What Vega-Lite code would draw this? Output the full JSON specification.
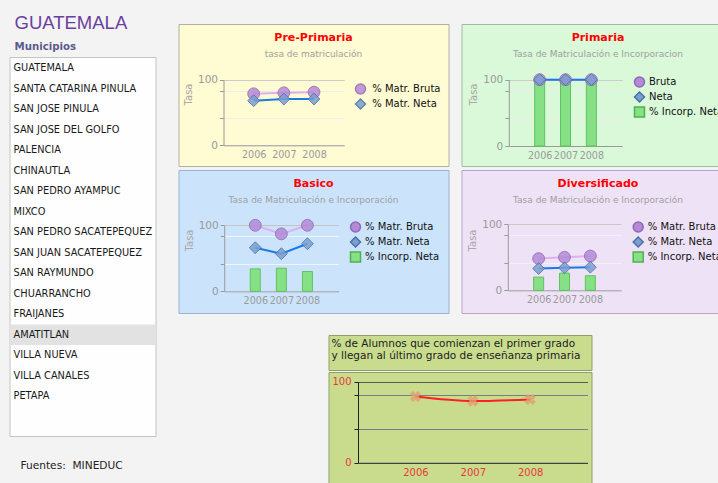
{
  "$schema": "https://vega.github.io/schema/vega-lite/v6.json",
  "background": "#f3f3f3",
  "padding": {"left": 8.5, "top": 0, "right": 0, "bottom": 0},
  "autosize": {"type": "pad"},
  "config": {
    "view": {"stroke": null},
    "font": "DejaVu Sans",
    "title": {"font": "DejaVu Sans"},
    "axis": {"labelFont": "DejaVu Sans", "titleFont": "DejaVu Sans", "domainColor": "#9a9a9a", "tickColor": "#9a9a9a", "labelColor": "#9a9a9a", "titleColor": "#a8a8a8", "titleFontWeight": "normal", "labelFontSize": 10.5, "titleFontSize": 10},
    "axisX": {"grid": false, "ticks": false, "labelPadding": 4, "labelFontSize": 9.6},
    "axisY": {"tickSize": 4, "labelPadding": 2},
    "legend": {"orient": "none", "padding": 0, "labelFont": "DejaVu Sans", "labelFontSize": 10, "labelColor": "#111111", "symbolSize": 100, "labelOffset": 3.5, "rowPadding": -1}
  },
  "datasets": {
    "municipios": [
      {"nombre": "GUATEMALA"}, {"nombre": "SANTA CATARINA PINULA"}, {"nombre": "SAN JOSE PINULA"}, {"nombre": "SAN JOSE DEL GOLFO"}, {"nombre": "PALENCIA"}, {"nombre": "CHINAUTLA"}, {"nombre": "SAN PEDRO AYAMPUC"}, {"nombre": "MIXCO"}, {"nombre": "SAN PEDRO SACATEPEQUEZ"}, {"nombre": "SAN JUAN SACATEPEQUEZ"}, {"nombre": "SAN RAYMUNDO"}, {"nombre": "CHUARRANCHO"}, {"nombre": "FRAIJANES"}, {"nombre": "AMATITLAN"}, {"nombre": "VILLA NUEVA"}, {"nombre": "VILLA CANALES"}, {"nombre": "PETAPA"}
    ],
    "matricula": [
      {"nivel": "Pre-Primaria", "anio": 2006, "serie": "% Matr. Bruta", "valor": 78.5},
      {"nivel": "Pre-Primaria", "anio": 2007, "serie": "% Matr. Bruta", "valor": 80},
      {"nivel": "Pre-Primaria", "anio": 2008, "serie": "% Matr. Bruta", "valor": 81},
      {"nivel": "Pre-Primaria", "anio": 2006, "serie": "% Matr. Neta", "valor": 68},
      {"nivel": "Pre-Primaria", "anio": 2007, "serie": "% Matr. Neta", "valor": 70.5},
      {"nivel": "Pre-Primaria", "anio": 2008, "serie": "% Matr. Neta", "valor": 70.5},
      {"nivel": "Primaria", "anio": 2006, "serie": "% Incorp. Neta", "valor": 98},
      {"nivel": "Primaria", "anio": 2007, "serie": "% Incorp. Neta", "valor": 98},
      {"nivel": "Primaria", "anio": 2008, "serie": "% Incorp. Neta", "valor": 98},
      {"nivel": "Primaria", "anio": 2006, "serie": "Bruta", "valor": 100},
      {"nivel": "Primaria", "anio": 2007, "serie": "Bruta", "valor": 100},
      {"nivel": "Primaria", "anio": 2008, "serie": "Bruta", "valor": 100},
      {"nivel": "Primaria", "anio": 2006, "serie": "Neta", "valor": 100},
      {"nivel": "Primaria", "anio": 2007, "serie": "Neta", "valor": 100},
      {"nivel": "Primaria", "anio": 2008, "serie": "Neta", "valor": 100},
      {"nivel": "Basico", "anio": 2006, "serie": "% Incorp. Neta", "valor": 34},
      {"nivel": "Basico", "anio": 2007, "serie": "% Incorp. Neta", "valor": 35},
      {"nivel": "Basico", "anio": 2008, "serie": "% Incorp. Neta", "valor": 30},
      {"nivel": "Basico", "anio": 2006, "serie": "% Matr. Bruta", "valor": 100},
      {"nivel": "Basico", "anio": 2007, "serie": "% Matr. Bruta", "valor": 87},
      {"nivel": "Basico", "anio": 2008, "serie": "% Matr. Bruta", "valor": 100},
      {"nivel": "Basico", "anio": 2006, "serie": "% Matr. Neta", "valor": 66},
      {"nivel": "Basico", "anio": 2007, "serie": "% Matr. Neta", "valor": 57},
      {"nivel": "Basico", "anio": 2008, "serie": "% Matr. Neta", "valor": 72},
      {"nivel": "Diversificado", "anio": 2006, "serie": "% Incorp. Neta", "valor": 20},
      {"nivel": "Diversificado", "anio": 2007, "serie": "% Incorp. Neta", "valor": 26},
      {"nivel": "Diversificado", "anio": 2008, "serie": "% Incorp. Neta", "valor": 22},
      {"nivel": "Diversificado", "anio": 2006, "serie": "% Matr. Bruta", "valor": 48},
      {"nivel": "Diversificado", "anio": 2007, "serie": "% Matr. Bruta", "valor": 50},
      {"nivel": "Diversificado", "anio": 2008, "serie": "% Matr. Bruta", "valor": 52},
      {"nivel": "Diversificado", "anio": 2006, "serie": "% Matr. Neta", "valor": 33},
      {"nivel": "Diversificado", "anio": 2007, "serie": "% Matr. Neta", "valor": 34},
      {"nivel": "Diversificado", "anio": 2008, "serie": "% Matr. Neta", "valor": 35}
    ],
    "permanencia": [
      {"anio": 2006, "valor": 81.5},
      {"anio": 2007, "valor": 76},
      {"anio": 2008, "valor": 78}
    ]
  },
  "spacing": 21,
  "resolve": {"scale": {"color": "independent", "shape": "independent", "stroke": "independent"}, "legend": {"color": "independent", "shape": "independent", "stroke": "independent"}},
  "hconcat": [
    {
      "spacing": 0,
      "vconcat": [
        {
          "width": 146, "height": 56,
          "title": {"text": "GUATEMALA", "subtitle": "Municipios", "anchor": "start", "frame": "group", "offset": -52, "dx": 5, "font": "Liberation Sans", "fontSize": 18.5, "fontWeight": "normal", "color": "#6b3fa0", "subtitleFont": "DejaVu Sans", "subtitleFontSize": 10.2, "subtitleFontWeight": "bold", "subtitleColor": "#5b5b8e", "subtitlePadding": 9},
          "data": {"values": [{}]},
          "mark": {"type": "text", "text": ""}
        },
        {
          "width": 146, "height": 379,
          "view": {"fill": "#fefefe", "stroke": "#c4c4c4", "strokeWidth": 1},
          "data": {"name": "municipios"},
          "encoding": {
            "y": {"field": "nombre", "type": "nominal", "sort": null, "scale": {"type": "band", "paddingInner": 0, "paddingOuter": 0, "range": [1, 349.5], "domain": ["GUATEMALA", "SANTA CATARINA PINULA", "SAN JOSE PINULA", "SAN JOSE DEL GOLFO", "PALENCIA", "CHINAUTLA", "SAN PEDRO AYAMPUC", "MIXCO", "SAN PEDRO SACATEPEQUEZ", "SAN JUAN SACATEPEQUEZ", "SAN RAYMUNDO", "CHUARRANCHO", "FRAIJANES", "AMATITLAN", "VILLA NUEVA", "VILLA CANALES", "PETAPA"]}, "axis": null},
            "x": {"datum": 0, "type": "quantitative", "scale": {"domain": [0, 1], "nice": false}, "axis": null}
          },
          "layer": [
            {"transform": [{"filter": "datum.nombre === 'AMATITLAN'"}], "mark": {"type": "rect", "color": "#e2e2e2"}, "encoding": {"x2": {"datum": 1}}},
            {"mark": {"type": "text", "align": "left", "baseline": "middle", "dx": 4, "fontSize": 9.8, "color": "#1a1a1a"}, "encoding": {"text": {"field": "nombre"}}}
          ]
        },
        {
          "width": 146, "height": 47,
          "title": {"text": "Fuentes:\u00a0 MINEDUC", "anchor": "start", "frame": "group", "offset": -35, "dx": 11, "fontSize": 10.6, "fontWeight": "normal", "color": "#222222"},
          "data": {"values": [{}]},
          "mark": {"type": "text", "text": ""}
        }
      ]
    },
    {
      "spacing": 0,
      "resolve": {"scale": {"color": "independent", "shape": "independent", "stroke": "independent"}, "legend": {"color": "independent", "shape": "independent", "stroke": "independent"}},
      "vconcat": [
        {"width": 10, "height": 23, "data": {"values": [{}]}, "mark": {"type": "text", "text": ""}},
        {
          "spacing": 2,
          "resolve": {"scale": {"color": "independent", "shape": "independent", "stroke": "independent"}, "legend": {"color": "independent", "shape": "independent", "stroke": "independent"}},
          "vconcat": [
            {
              "spacing": 11,
              "resolve": {"scale": {"color": "independent", "shape": "independent", "stroke": "independent"}, "legend": {"color": "independent", "shape": "independent", "stroke": "independent"}},
              "hconcat": [
                {
                  "width": 270, "height": 142,
                  "view": {"fill": "#fffbd2", "stroke": "#b0b0a4", "strokeWidth": 1},
                  "title": {"text": "Pre-Primaria", "subtitle": "tasa de matriculación", "anchor": "middle", "frame": "group", "offset": -35, "fontSize": 11, "fontWeight": "bold", "color": "#ff0000", "subtitleFontSize": 9, "subtitleColor": "#a0a0a0", "subtitlePadding": 7},
                  "data": {"name": "matricula"},
                  "transform": [{"filter": "datum.nivel === 'Pre-Primaria'"}],
                  "encoding": {
                    "x": {"field": "anio", "type": "quantitative", "scale": {"domain": [2005, 2009], "range": [45, 165.7], "nice": false, "zero": false}, "axis": {"values": [2006, 2007, 2008], "format": "d", "offset": -20.7, "title": null, "labelFlush": false, "labelOverlap": false}},
                    "y": {"field": "valor", "type": "quantitative", "scale": {"domain": [0, 100], "range": [121.3, 55.7], "nice": false}, "axis": {"values": [0, 41.67, 83.33, 100], "offset": -45, "labelExpr": "datum.value === 0 || datum.value === 100 ? datum.label : ''", "title": "Tasa", "titleX": -35, "titleY": 70, "titleAlign": "center", "titleBaseline": "middle", "grid": true, "gridColor": {"condition": {"test": "datum.value === 100", "value": "#cccccc"}, "value": "#ececec"}}}
                  },
                  "layer": [
                    {"transform": [{"filter": "datum.serie === '% Matr. Bruta'"}], "mark": {"type": "line", "color": "#dfb0f0", "strokeWidth": 2}},
                    {"transform": [{"filter": "datum.serie === '% Matr. Neta'"}], "mark": {"type": "line", "color": "#1a7ae6", "strokeWidth": 2}},
                    {
                      "mark": {"type": "point", "filled": true, "size": 140, "opacity": 0.85, "strokeWidth": 1},
                      "encoding": {
                        "color": {"field": "serie", "type": "nominal", "scale": {"domain": ["% Matr. Bruta", "% Matr. Neta"], "range": ["#b48ad6", "#7b9fd0"]}, "legend": {"title": null, "legendX": 176, "legendY": 59, "labelOffset": 5.7}},
                        "shape": {"field": "serie", "type": "nominal", "scale": {"domain": ["% Matr. Bruta", "% Matr. Neta"], "range": ["circle", "diamond"]}, "legend": {"title": null, "legendX": 176, "legendY": 59, "labelOffset": 5.7}},
                        "stroke": {"field": "serie", "type": "nominal", "scale": {"domain": ["% Matr. Bruta", "% Matr. Neta"], "range": ["#9068b8", "#4a70a8"]}, "legend": null}
                      }
                    }
                  ]
                },
                {
                  "width": 273, "height": 142,
                  "view": {"fill": "#d9f9d9", "stroke": "#a4b8a4", "strokeWidth": 1},
                  "title": {"text": "Primaria", "subtitle": "Tasa de Matriculación e Incorporacion", "anchor": "middle", "frame": "group", "offset": -35, "fontSize": 11, "fontWeight": "bold", "color": "#ff0000", "subtitleFontSize": 9, "subtitleColor": "#a0a0a0", "subtitlePadding": 7},
                  "data": {"name": "matricula"},
                  "transform": [{"filter": "datum.nivel === 'Primaria'"}],
                  "encoding": {
                    "x": {"field": "anio", "type": "quantitative", "scale": {"domain": [2005, 2009], "range": [47.3, 160.7], "nice": false, "zero": false}, "axis": {"values": [2006, 2007, 2008], "format": "d", "offset": -20, "title": null, "labelFlush": false, "labelOverlap": false}},
                    "y": {"field": "valor", "type": "quantitative", "scale": {"domain": [0, 100], "range": [122, 55.7], "nice": false}, "axis": {"values": [0, 41.67, 83.33, 100], "offset": -47.3, "labelExpr": "datum.value === 0 || datum.value === 100 ? datum.label : ''", "title": "Tasa", "titleX": -35, "titleY": 70, "titleAlign": "center", "titleBaseline": "middle", "grid": true, "gridColor": {"condition": {"test": "datum.value === 100", "value": "#cccccc"}, "value": "#ececec"}}}
                  },
                  "layer": [
                    {
                      "transform": [{"filter": "datum.serie === '% Incorp. Neta'"}],
                      "mark": {"type": "bar", "size": 10, "stroke": "#5ec45e", "strokeWidth": 1},
                      "encoding": {
                        "color": {"field": "serie", "type": "nominal", "scale": {"domain": ["Bruta", "Neta", "% Incorp. Neta"], "range": ["#b48ad6", "#7b9fd0", "#86e086"]}, "legend": {"title": null, "legendX": 172, "legendY": 52}}
                      }
                    },
                    {"transform": [{"filter": "datum.serie === 'Bruta'"}], "mark": {"type": "line", "color": "#dfb0f0", "strokeWidth": 2}},
                    {"transform": [{"filter": "datum.serie === 'Neta'"}], "mark": {"type": "line", "color": "#1a7ae6", "strokeWidth": 2}},
                    {
                      "transform": [{"filter": "datum.serie !== '% Incorp. Neta'"}],
                      "mark": {"type": "point", "filled": true, "size": 140, "opacity": 0.85, "strokeWidth": 1},
                      "encoding": {
                        "color": {"field": "serie", "type": "nominal", "scale": {"domain": ["Bruta", "Neta", "% Incorp. Neta"], "range": ["#b48ad6", "#7b9fd0", "#86e086"]}, "legend": {"title": null, "legendX": 172, "legendY": 52}},
                        "shape": {"field": "serie", "type": "nominal", "scale": {"domain": ["Bruta", "Neta", "% Incorp. Neta"], "range": ["circle", "diamond", "square"]}, "legend": {"title": null, "legendX": 172, "legendY": 52}},
                        "stroke": {"field": "serie", "type": "nominal", "scale": {"domain": ["Bruta", "Neta", "% Incorp. Neta"], "range": ["#9068b8", "#4a70a8", "#50b050"]}, "legend": null}
                      }
                    }
                  ]
                }
              ]
            },
            {
              "spacing": 11,
              "resolve": {"scale": {"color": "independent", "shape": "independent", "stroke": "independent"}, "legend": {"color": "independent", "shape": "independent", "stroke": "independent"}},
              "hconcat": [
                {
                  "width": 270, "height": 143,
                  "view": {"fill": "#cbe4fc", "stroke": "#9ab2d0", "strokeWidth": 1},
                  "title": {"text": "Basico", "subtitle": "Tasa de Matriculación e Incorporación", "anchor": "middle", "frame": "group", "offset": -35, "fontSize": 11, "fontWeight": "bold", "color": "#ff0000", "subtitleFontSize": 9, "subtitleColor": "#a0a0a0", "subtitlePadding": 7},
                  "data": {"name": "matricula"},
                  "transform": [{"filter": "datum.nivel === 'Basico'"}],
                  "encoding": {
                    "x": {"field": "anio", "type": "quantitative", "scale": {"domain": [2005, 2009], "range": [45.7, 160], "nice": false, "zero": false}, "axis": {"values": [2006, 2007, 2008], "format": "d", "offset": -21.7, "title": null, "labelFlush": false, "labelOverlap": false}},
                    "y": {"field": "valor", "type": "quantitative", "scale": {"domain": [0, 100], "range": [121.3, 55.3], "nice": false}, "axis": {"values": [0, 41.67, 83.33, 100], "offset": -45.7, "labelExpr": "datum.value === 0 || datum.value === 100 ? datum.label : ''", "title": "Tasa", "titleX": -35, "titleY": 70, "titleAlign": "center", "titleBaseline": "middle", "grid": true, "gridColor": {"condition": {"test": "datum.value === 100", "value": "#c4c4c4"}, "value": "#eef5fd"}}}
                  },
                  "layer": [
                    {
                      "transform": [{"filter": "datum.serie === '% Incorp. Neta'"}],
                      "mark": {"type": "bar", "size": 10, "stroke": "#5ec45e", "strokeWidth": 1},
                      "encoding": {
                        "color": {"field": "serie", "type": "nominal", "scale": {"domain": ["% Matr. Bruta", "% Matr. Neta", "% Incorp. Neta"], "range": ["#b48ad6", "#7b9fd0", "#86e086"]}, "legend": {"title": null, "legendX": 171, "legendY": 51}}
                      }
                    },
                    {"transform": [{"filter": "datum.serie === '% Matr. Bruta'"}], "mark": {"type": "line", "color": "#dfb0f0", "strokeWidth": 2}},
                    {"transform": [{"filter": "datum.serie === '% Matr. Neta'"}], "mark": {"type": "line", "color": "#1a7ae6", "strokeWidth": 2}},
                    {
                      "transform": [{"filter": "datum.serie !== '% Incorp. Neta'"}],
                      "mark": {"type": "point", "filled": true, "size": 140, "opacity": 0.85, "strokeWidth": 1},
                      "encoding": {
                        "color": {"field": "serie", "type": "nominal", "scale": {"domain": ["% Matr. Bruta", "% Matr. Neta", "% Incorp. Neta"], "range": ["#b48ad6", "#7b9fd0", "#86e086"]}, "legend": {"title": null, "legendX": 171, "legendY": 51}},
                        "shape": {"field": "serie", "type": "nominal", "scale": {"domain": ["% Matr. Bruta", "% Matr. Neta", "% Incorp. Neta"], "range": ["circle", "diamond", "square"]}, "legend": {"title": null, "legendX": 171, "legendY": 51}},
                        "stroke": {"field": "serie", "type": "nominal", "scale": {"domain": ["% Matr. Bruta", "% Matr. Neta", "% Incorp. Neta"], "range": ["#9068b8", "#4a70a8", "#50b050"]}, "legend": null}
                      }
                    }
                  ]
                },
                {
                  "width": 273, "height": 143,
                  "view": {"fill": "#eee2f6", "stroke": "#b4a6c4", "strokeWidth": 1},
                  "title": {"text": "Diversificado", "subtitle": "Tasa de Matriculación e Incorporación", "anchor": "middle", "frame": "group", "offset": -35, "fontSize": 11, "fontWeight": "bold", "color": "#ff0000", "subtitleFontSize": 9, "subtitleColor": "#a0a0a0", "subtitlePadding": 7},
                  "data": {"name": "matricula"},
                  "transform": [{"filter": "datum.nivel === 'Diversificado'"}],
                  "encoding": {
                    "x": {"field": "anio", "type": "quantitative", "scale": {"domain": [2005, 2009], "range": [46.3, 159.7], "nice": false, "zero": false}, "axis": {"values": [2006, 2007, 2008], "format": "d", "offset": -22.7, "title": null, "labelFlush": false, "labelOverlap": false}},
                    "y": {"field": "valor", "type": "quantitative", "scale": {"domain": [0, 100], "range": [120.3, 54.3], "nice": false}, "axis": {"values": [0, 41.67, 83.33, 100], "offset": -46.3, "labelExpr": "datum.value === 0 || datum.value === 100 ? datum.label : ''", "title": "Tasa", "titleX": -35, "titleY": 70, "titleAlign": "center", "titleBaseline": "middle", "grid": true, "gridColor": {"condition": {"test": "datum.value === 100", "value": "#c8c8c8"}, "value": "#f4eefa"}}}
                  },
                  "layer": [
                    {
                      "transform": [{"filter": "datum.serie === '% Incorp. Neta'"}],
                      "mark": {"type": "bar", "size": 10, "stroke": "#5ec45e", "strokeWidth": 1},
                      "encoding": {
                        "color": {"field": "serie", "type": "nominal", "scale": {"domain": ["% Matr. Bruta", "% Matr. Neta", "% Incorp. Neta"], "range": ["#b48ad6", "#7b9fd0", "#86e086"]}, "legend": {"title": null, "legendX": 170.7, "legendY": 51}}
                      }
                    },
                    {"transform": [{"filter": "datum.serie === '% Matr. Bruta'"}], "mark": {"type": "line", "color": "#dfb0f0", "strokeWidth": 2}},
                    {"transform": [{"filter": "datum.serie === '% Matr. Neta'"}], "mark": {"type": "line", "color": "#1a7ae6", "strokeWidth": 2}},
                    {
                      "transform": [{"filter": "datum.serie !== '% Incorp. Neta'"}],
                      "mark": {"type": "point", "filled": true, "size": 140, "opacity": 0.85, "strokeWidth": 1},
                      "encoding": {
                        "color": {"field": "serie", "type": "nominal", "scale": {"domain": ["% Matr. Bruta", "% Matr. Neta", "% Incorp. Neta"], "range": ["#b48ad6", "#7b9fd0", "#86e086"]}, "legend": {"title": null, "legendX": 170.7, "legendY": 51}},
                        "shape": {"field": "serie", "type": "nominal", "scale": {"domain": ["% Matr. Bruta", "% Matr. Neta", "% Incorp. Neta"], "range": ["circle", "diamond", "square"]}, "legend": {"title": null, "legendX": 170.7, "legendY": 51}},
                        "stroke": {"field": "serie", "type": "nominal", "scale": {"domain": ["% Matr. Bruta", "% Matr. Neta", "% Incorp. Neta"], "range": ["#9068b8", "#4a70a8", "#50b050"]}, "legend": null}
                      }
                    }
                  ]
                }
              ]
            }
          ]
        },
        {"width": 10, "height": 20, "data": {"values": [{}]}, "mark": {"type": "text", "text": ""}},
        {
          "spacing": 0,
          "hconcat": [
            {"width": 149, "height": 10, "data": {"values": [{}]}, "mark": {"type": "text", "text": ""}},
            {
              "spacing": 0,
              "vconcat": [
                {
                  "width": 263, "height": 35,
                  "view": {"fill": "#c9dc8e", "stroke": "#8f9f6a", "strokeWidth": 1},
                  "title": {"text": ["% de Alumnos que comienzan el primer grado", "y llegan al último grado de enseñanza primaria"], "anchor": "start", "frame": "group", "dx": 3, "offset": -27, "fontSize": 10.5, "fontWeight": "normal", "color": "#222222", "lineHeight": 12.7},
                  "data": {"values": [{}]},
                  "mark": {"type": "text", "text": ""}
                },
                {
                  "width": 263, "height": 120,
                  "view": {"fill": "#c9dc8e", "stroke": "#8f9f6a", "strokeWidth": 1},
                  "data": {"name": "permanencia"},
                  "encoding": {
                    "x": {"field": "anio", "type": "quantitative", "scale": {"domain": [2005, 2009], "range": [29.6, 259], "nice": false, "zero": false}, "axis": {"values": [2006, 2007, 2008], "format": "d", "offset": -29.2, "title": null, "domainColor": "#333333", "labelColor": "#e83838", "labelFontSize": 10, "labelPadding": 5, "labelFlush": false, "labelOverlap": false}},
                    "y": {"field": "valor", "type": "quantitative", "scale": {"domain": [0, 100], "range": [90.8, 9.5], "nice": false}, "axis": {"values": [0, 41.67, 83.33, 100], "offset": -29.5, "labelExpr": "datum.value === 0 || datum.value === 100 ? datum.label : ''", "title": null, "domainColor": "#222222", "tickColor": "#222222", "labelColor": "#e83838", "labelFontSize": 10, "labelPadding": 3, "grid": true, "gridColor": {"condition": {"test": "datum.value === 100", "value": "#5a5a5a"}, "value": "#7a7a92"}}}
                  },
                  "layer": [
                    {"mark": {"type": "line", "color": "#ff1f1f", "strokeWidth": 2, "interpolate": "monotone"}},
                    {"mark": {"type": "point", "shape": "cross", "angle": 45, "filled": true, "size": 130, "color": "#e0a070", "opacity": 0.8}}
                  ]
                }
              ]
            }
          ]
        }
      ]
    }
  ]
}
